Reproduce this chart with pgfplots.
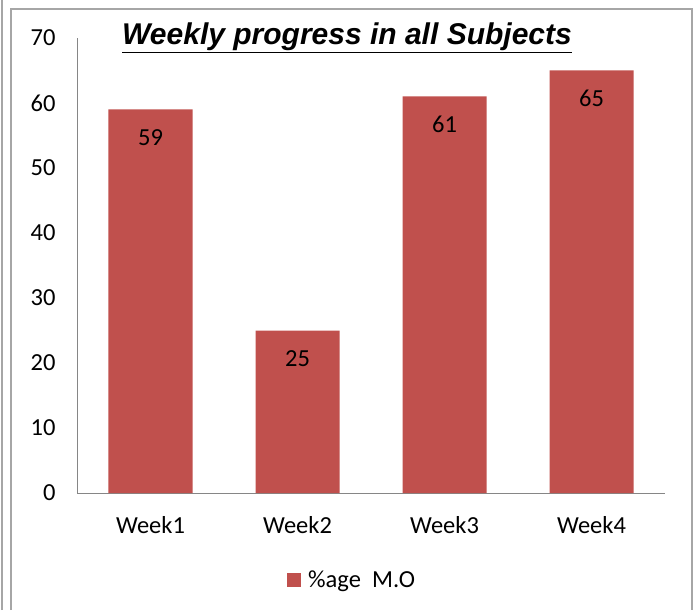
\documentclass[border=0pt]{standalone}
\usepackage{pgfplots}
\pgfplotsset{compat=1.18}
\usepackage{fontspec}
\setmainfont{Carlito}
\newfontfamily\titlefont{Liberation Sans}
\definecolor{barred}{HTML}{C0504D}
\definecolor{axgray}{HTML}{868686}
\definecolor{framegray}{HTML}{A6A6A6}
\begin{document}
\begin{tikzpicture}
\useasboundingbox (-77pt,-117pt) rectangle (618pt,493pt);
% chart frame (pixel px,py -> (px-77, 493-py))
\draw[framegray, line width=1.5pt] (-75pt,-117pt) -- (-75pt,493pt);
\draw[framegray, line width=1.5pt] (-66pt,-117pt) -- (-66pt,484pt) -- (615pt,484pt) -- (615pt,-117pt);
\begin{axis}[
  scale only axis,
  width=588pt, height=455pt,
  at={(0,0)}, anchor=south west,
  ybar, bar width=84pt,
  xmin=-0.5, xmax=3.5, ymin=0, ymax=70,
  xtick=data, xticklabels={Week1,Week2,Week3,Week4},
  ytick={0,10,...,70},
  axis x line=bottom, axis y line=left,
  axis line style={axgray, line width=1pt, -},
  major tick length=0pt,
  tick style={draw=none},
  /pgf/number format/assume math mode=true,
  tick label style={font=\fontsize{24.5}{29}\selectfont, text=black},
  yticklabel style={anchor=east, xshift=-18pt},
  xticklabel style={anchor=north, yshift=-20pt},
  nodes near coords,
  every node near coord/.append style={font=\fontsize{24.5}{29}\selectfont, text=black, anchor=center, yshift=-28pt},
  legend style={at={(0.468,-0.191)}, anchor=center, draw=none, fill=none, font=\fontsize{24.5}{29}\selectfont, legend cell align=left},
  legend image code/.code={\fill[barred] (0pt,-7pt) rectangle (14pt,7pt); \path (19pt,0pt);},
  clip=false,
]
\addplot[fill=barred, draw=none] coordinates {(0,59) (1,25) (2,61) (3,65)};
\addlegendentry{\%age\ \ M.O}
\end{axis}
\node[font=\titlefont\fontsize{30}{36}\selectfont\bfseries\itshape] at (270pt,455pt) {\underline{Weekly progress in all Subjects}};
\end{tikzpicture}
\end{document}
